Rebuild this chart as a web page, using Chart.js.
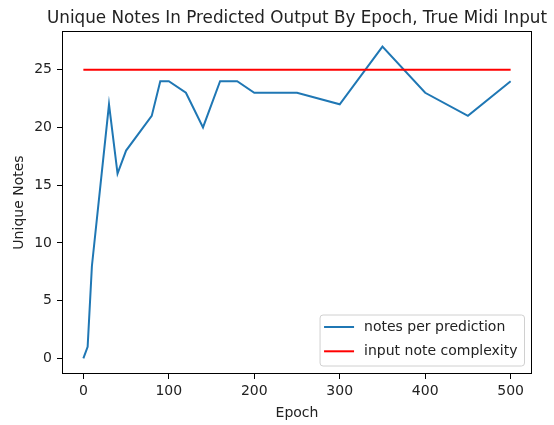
<!DOCTYPE html>
<html>
<head>
<meta charset="utf-8">
<script src="https://cdn.jsdelivr.net/npm/chart.js@4"></script>
<style>
  html,body{margin:0;padding:0;background:#fff}
  #wrap{width:554px;height:425px;position:relative}
</style>
</head>
<body>
<div id="wrap"><canvas id="chart-notes"></canvas></div>
<script>
'use strict';

// data
const epochs = [0, 5, 10, 20, 30, 40, 50, 80, 90, 100, 120, 140, 160, 180, 200, 250, 300, 350, 400, 450, 500];
const notesPerPrediction = [0, 1, 8, 15, 22, 16, 18, 21, 24, 24, 23, 20, 24, 24, 23, 23, 22, 27, 23, 21, 24];
const complexityEpochs = [0, 500];
const inputComplexity = [25, 25];
const xTicks = [0, 100, 200, 300, 400, 500];
const yTicks = [0, 5, 10, 15, 20, 25];

const TITLE = 'Unique Notes In Predicted Output By Epoch, True Midi Input';
const FONT = 'DejaVu Sans';
const TXT = '#222';

const toPts = (xs, ys) => xs.map((x, i) => ({x, y: ys[i]}));

// title (centred on the axes, allowed to overhang), frame, legend box
const framePlugin = {
  id: 'frame',
  afterDatasetsDraw(chart) {
    const {ctx, chartArea: a} = chart;
    ctx.save();
    ctx.fillStyle = TXT;
    ctx.font = `16.8px "${FONT}"`;
    ctx.textAlign = 'center';
    ctx.textBaseline = 'alphabetic';
    ctx.fillText(TITLE, (a.left + a.right) / 2, a.top - 8.3);

    ctx.strokeStyle = '#000';
    ctx.lineWidth = 1;
    ctx.strokeRect(Math.round(a.left) + 0.5, Math.round(a.top) + 0.5,
      Math.round(a.right - a.left) - 1, Math.round(a.bottom - a.top) - 1);

    // legend
    ctx.font = `14px "${FONT}"`;
    const items = chart.data.datasets;
    const tw = Math.max(...items.map(d => ctx.measureText(d.label).width));
    const w = 44 + tw + 7, h = 51;
    const x0 = a.right - 7.5 - w, y0 = a.bottom - 8 - h;
    ctx.beginPath();
    ctx.roundRect(x0, y0, w, h, 3);
    ctx.fillStyle = 'rgba(255,255,255,0.8)';
    ctx.fill();
    ctx.strokeStyle = '#d0d0d0';
    ctx.stroke();
    items.forEach((d, i) => {
      const cy = y0 + 12 + i * 24.3;
      ctx.beginPath();
      ctx.moveTo(x0 + 4, cy); ctx.lineTo(x0 + 34, cy);
      ctx.strokeStyle = d.borderColor; ctx.lineWidth = 2; ctx.stroke();
      ctx.fillStyle = TXT;
      ctx.textBaseline = 'middle';
      ctx.textAlign = 'left';
      ctx.fillText(d.label, x0 + 44, cy);
    });
    ctx.restore();
  }
};

new Chart(document.getElementById('chart-notes'), {
  type: 'line',
  data: {
    datasets: [
      {label: 'notes per prediction', data: toPts(epochs, notesPerPrediction),
       borderColor: '#1f77b4', borderWidth: 2, pointRadius: 0, tension: 0, order: 1},
      {label: 'input note complexity', data: toPts(complexityEpochs, inputComplexity),
       borderColor: '#ff0000', borderWidth: 2, pointRadius: 0, tension: 0, order: 0},
    ]
  },
  options: {
    responsive: true, maintainAspectRatio: false, animation: false,
    layout: {padding: {left: 0, right: 22, top: 31, bottom: 0}},
    plugins: {
      legend: {display: false},
      tooltip: {enabled: false},
      title: {display: false}
    },
    scales: {
      x: {type: 'linear', min: -25, max: 525,
        afterBuildTicks: s => { s.ticks = xTicks.map(v => ({value: v})); },
        afterFit: s => { s.height = 51; },
        grid: {display: true, drawOnChartArea: false, drawTicks: true, tickLength: 5, color: '#000'},
        border: {display: false},
        ticks: {color: TXT, padding: 4, maxRotation: 0, font: {family: FONT, size: 14}},
        title: {display: true, text: 'Epoch', color: TXT, font: {family: FONT, size: 14}, padding: {top: 0, bottom: 3}}
      },
      y: {type: 'linear', min: -1.35, max: 28.35,
        afterBuildTicks: s => { s.ticks = yTicks.map(v => ({value: v})); },
        afterFit: s => { s.width = 62; },
        grid: {display: true, drawOnChartArea: false, drawTicks: true, tickLength: 5, color: '#000'},
        border: {display: false},
        ticks: {color: TXT, padding: 5, font: {family: FONT, size: 14}},
        title: {display: true, text: 'Unique Notes', color: TXT, font: {family: FONT, size: 14}, padding: {top: 11, bottom: 0}}
      }
    }
  },
  plugins: [framePlugin]
});
</script>
</body>
</html>
